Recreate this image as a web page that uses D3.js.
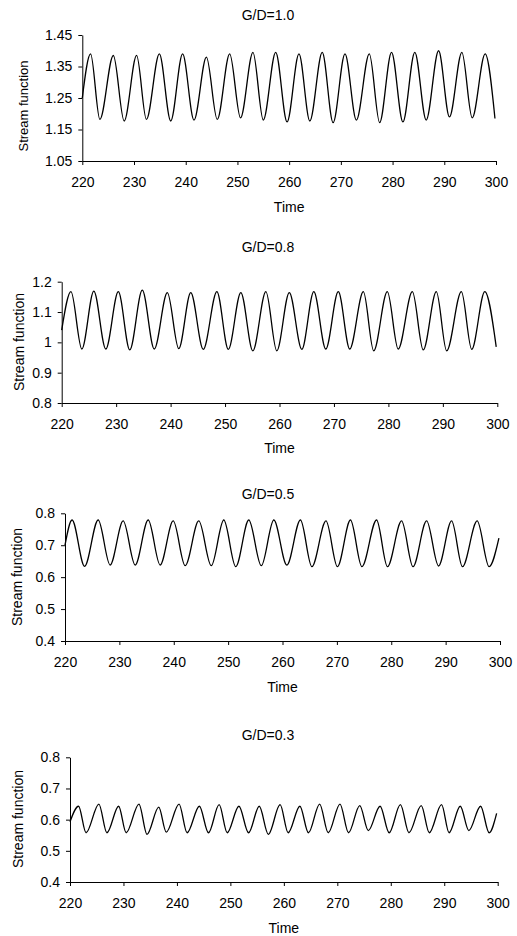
<!DOCTYPE html>
<html>
<head>
<meta charset="utf-8">
<script src="https://cdn.jsdelivr.net/npm/d3@7"></script>
<style>
  html, body { margin: 0; padding: 0; background: #fff; }
  svg { display: block; }
  text { font-family: "Liberation Sans", Arial, sans-serif; fill: #000; }
</style>
</head>
<body>
<svg id="chart" width="517" height="936"></svg>
<script>
// ---------------- DATA (peaks/troughs of each series) ----------------
const panelTitles = ["G/D=1.0", "G/D=0.8", "G/D=0.5", "G/D=0.3"];
const xTicks = [220, 230, 240, 250, 260, 270, 280, 290, 300];
const xLabel = "Time";
const yLabel = "Stream function";

const yTicks10 = [1.05, 1.15, 1.25, 1.35, 1.45];
const yTicks08 = [0.8, 0.9, 1, 1.1, 1.2];
const yTicks05 = [0.4, 0.5, 0.6, 0.7, 0.8];
const yTicks03 = [0.4, 0.5, 0.6, 0.7, 0.8];

const time10 = [220, 221.6, 223.4, 226.0, 228.1, 230.5, 232.4, 234.9, 237.1, 239.4, 241.6, 244.0, 246.1, 248.5, 250.6, 253.0, 255.0, 257.4, 259.6, 261.9, 264.0, 266.4, 268.5, 270.8, 273.0, 275.5, 277.5, 279.8, 282.0, 284.3, 286.5, 288.9, 291.0, 293.4, 295.4, 297.9, 299.8];
const value10 = [1.25, 1.39, 1.182, 1.385, 1.177, 1.385, 1.182, 1.39, 1.177, 1.39, 1.18, 1.38, 1.182, 1.39, 1.187, 1.395, 1.18, 1.395, 1.174, 1.39, 1.177, 1.395, 1.172, 1.39, 1.18, 1.39, 1.172, 1.395, 1.174, 1.395, 1.18, 1.40, 1.19, 1.395, 1.187, 1.39, 1.185];

const time08 = [220, 221.7, 223.7, 225.9, 228.1, 230.4, 232.5, 234.8, 237.0, 239.4, 241.5, 243.7, 246.0, 248.5, 250.6, 252.9, 255.1, 257.5, 259.5, 261.8, 264.1, 266.3, 268.5, 270.8, 272.9, 275.4, 277.3, 279.8, 281.8, 284.4, 286.4, 288.8, 290.7, 293.4, 295.3, 297.7, 299.8];
const value08 = [1.04, 1.167, 0.978, 1.169, 0.978, 1.167, 0.975, 1.172, 0.978, 1.164, 0.979, 1.164, 0.977, 1.167, 0.977, 1.164, 0.972, 1.167, 0.972, 1.164, 0.977, 1.167, 0.978, 1.167, 0.978, 1.167, 0.972, 1.167, 0.978, 1.167, 0.975, 1.167, 0.972, 1.167, 0.977, 1.167, 0.985];

const time05 = [220, 221.3, 223.6, 226.1, 228.3, 230.7, 232.9, 235.3, 237.5, 239.9, 242.1, 244.6, 246.9, 249.2, 251.4, 253.8, 256.1, 258.4, 260.8, 263.3, 265.4, 268.0, 270.1, 272.5, 274.6, 277.3, 279.3, 281.9, 284.0, 286.5, 288.7, 291.1, 293.1, 295.8, 298.0, 299.8];
const value05 = [0.70, 0.779, 0.634, 0.779, 0.638, 0.776, 0.638, 0.779, 0.638, 0.776, 0.636, 0.776, 0.636, 0.779, 0.633, 0.779, 0.636, 0.779, 0.638, 0.779, 0.633, 0.776, 0.633, 0.779, 0.633, 0.779, 0.633, 0.776, 0.633, 0.776, 0.635, 0.776, 0.633, 0.776, 0.633, 0.722];

const time03 = [220, 221.6, 223.0, 225.4, 226.9, 229.1, 230.5, 232.9, 234.4, 236.6, 238.0, 240.4, 241.9, 244.2, 245.9, 247.9, 249.4, 251.6, 253.4, 255.4, 257.1, 259.3, 260.8, 263.0, 264.6, 266.7, 268.3, 270.5, 272.1, 274.2, 275.8, 278.0, 279.7, 281.8, 283.4, 285.7, 287.2, 289.5, 290.9, 293.0, 294.6, 296.8, 298.4, 299.8];
const value03 = [0.593, 0.643, 0.558, 0.650, 0.558, 0.643, 0.558, 0.650, 0.553, 0.640, 0.560, 0.650, 0.558, 0.643, 0.558, 0.648, 0.558, 0.643, 0.558, 0.643, 0.553, 0.648, 0.558, 0.643, 0.558, 0.650, 0.558, 0.650, 0.558, 0.645, 0.565, 0.643, 0.558, 0.648, 0.558, 0.645, 0.558, 0.648, 0.558, 0.643, 0.565, 0.643, 0.558, 0.62];

// ---------------- LAYOUT ----------------
const panels = [
  { title: panelTitles[0], t: time10, v: value10, ticks: yTicks10, fmt: d3.format(".2f"),
    left: 82.3, right: 496, top: 35, bottom: 161, titleY: 15, xlabY: 207, ylabX: 23, ylabY: 106, ylabSize: 13 },
  { title: panelTitles[1], t: time08, v: value08, ticks: yTicks08, fmt: d => String(+d.toFixed(1)),
    left: 61.7, right: 497.3, top: 281.7, bottom: 403, titleY: 247, xlabY: 448, ylabX: 19, ylabY: 342, ylabSize: 14 },
  { title: panelTitles[2], t: time05, v: value05, ticks: yTicks05, fmt: d3.format(".1f"),
    left: 65, right: 500, top: 513.3, bottom: 641, titleY: 494, xlabY: 687, ylabX: 17, ylabY: 577, ylabSize: 14 },
  { title: panelTitles[3], t: time03, v: value03, ticks: yTicks03, fmt: d3.format(".1f"),
    left: 70, right: 497.7, top: 757.3, bottom: 882, titleY: 735, xlabY: 928, ylabX: 18, ylabY: 819, ylabSize: 14 }
];

const svg = d3.select("#chart");
const FONT = 14;

panels.forEach(p => {
  const g = svg.append("g");
  const x = d3.scaleLinear().domain([220, 300]).range([p.left, p.right]);
  const y = d3.scaleLinear().domain([p.ticks[0], p.ticks[p.ticks.length - 1]]).range([p.bottom, p.top]);

  // x axis
  const xa = g.append("g").attr("transform", `translate(0,${p.bottom})`)
    .call(d3.axisBottom(x).tickValues(xTicks).tickFormat(d3.format("d")).tickSize(4).tickSizeOuter(0).tickPadding(12));
  // y axis
  const ya = g.append("g").attr("transform", `translate(${p.left},0)`)
    .call(d3.axisLeft(y).tickValues(p.ticks).tickFormat(p.fmt).tickSize(4).tickSizeOuter(0).tickPadding(6));

  [xa, ya].forEach(a => {
    a.selectAll("path.domain").attr("stroke", "#000").attr("stroke-width", 1);
    a.selectAll(".tick line").attr("stroke", "#000").attr("stroke-width", 1);
    a.selectAll(".tick text").attr("font-size", FONT).attr("font-family", '"Liberation Sans", Arial, sans-serif').attr("fill", "#000");
  });

  // series line
  const pts = p.t.map((t, i) => [t, p.v[i]]);
  g.append("path")
    .datum(pts)
    .attr("fill", "none")
    .attr("stroke", "#000")
    .attr("stroke-width", 1.3)
    .attr("stroke-linejoin", "round")
    .attr("d", d3.line().x(d => x(d[0])).y(d => y(d[1])).curve(d3.curveMonotoneX));

  // title
  g.append("text").attr("x", 268).attr("y", p.titleY).attr("dy", "0.35em")
    .attr("text-anchor", "middle").attr("font-size", FONT).text(p.title);
  // x label
  g.append("text").attr("x", (p.left + p.right) / 2).attr("y", p.xlabY).attr("dy", "0.35em")
    .attr("text-anchor", "middle").attr("font-size", FONT).text(xLabel);
  // y label
  g.append("text").attr("transform", `translate(${p.ylabX},${p.ylabY}) rotate(-90)`).attr("dy", "0.35em")
    .attr("text-anchor", "middle").attr("font-size", p.ylabSize).text(yLabel);
});
</script>
</body>
</html>
